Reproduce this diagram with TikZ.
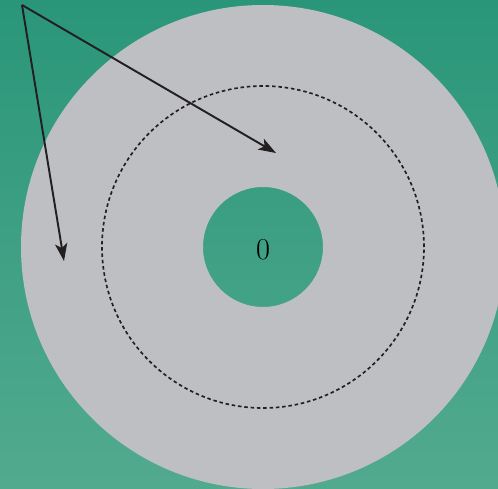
\documentclass[tikz,border=0pt]{standalone}
\usepackage{tikz}
\usetikzlibrary{arrows.meta}

\definecolor{bgtop}{RGB}{42,150,121}
\definecolor{bgbot}{RGB}{82,170,142}
\definecolor{diskgray}{RGB}{190,191,195}
\definecolor{inkdark}{RGB}{35,31,32}

\begin{document}
\begin{tikzpicture}[x=0.02cm, y=0.02cm, >={Stealth[length=10pt, width=7pt, inset=2.5pt]},
    pointer/.style={->, inkdark, line width=1.1pt},
    ring/.style={inkdark, line width=0.95pt, dash pattern=on 2pt off 1.6pt}]
    \shade[top color=bgtop, bottom color=bgbot] (0,0) rectangle (498,488);
    \useasboundingbox (0,0) rectangle (498,488);
    \begin{scope}
        \clip (0,0) rectangle (498,488);
        \fill[diskgray, even odd rule] (263,241) circle (242) (263,241) circle (60);
    \end{scope}
    \draw[ring] (263,241) circle (161);
    \node[font=\fontsize{16}{19}\selectfont] (zero) at (263,238) {\(0\)};
    \coordinate (src) at (22,483);
    \coordinate (tipA) at (64,227);
    \coordinate (tipB) at (276,335);
    \draw[pointer] (src) -- (tipA);
    \draw[pointer] (src) -- (tipB);
\end{tikzpicture}
\end{document}
